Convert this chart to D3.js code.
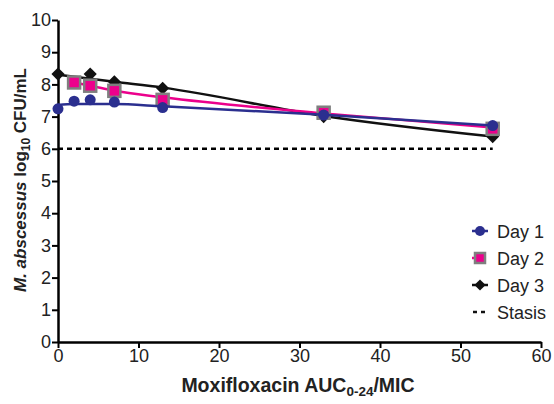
<!DOCTYPE html>
<html lang="en">
<head>
<meta charset="UTF-8">
<title>Moxifloxacin AUC/MIC vs M. abscessus</title>
<script src="https://d3js.org/d3.v7.min.js"></script>
<style>
  body { margin: 0; background: #fff; }
  text { font-family: "Liberation Sans", Arial, sans-serif; }
</style>
</head>
<body>
<svg width="554" height="404"></svg>
<script>
// measured points
var day1X = [0, 2, 4, 7, 13, 33, 54];
var day1Y = [7.24, 7.48, 7.52, 7.45, 7.28, 7.05, 6.72];
var day2X = [2, 4, 7, 13, 33, 54];
var day2Y = [8.06, 7.96, 7.8, 7.52, 7.12, 6.62];
var day3X = [0, 4, 7, 13, 33, 54];
var day3Y = [8.32, 8.32, 8.08, 7.88, 7.0, 6.38];

// fitted curves
var fit1X = [0, 2, 7, 13, 33, 54];
var fit1Y = [7.36, 7.39, 7.39, 7.32, 7.06, 6.72];
var fit2X = [2, 4, 7, 13, 33, 54];
var fit2Y = [8.06, 7.96, 7.8, 7.6, 7.1, 6.66];
var fit3X = [0, 7, 13, 33, 54];
var fit3Y = [8.3, 8.08, 7.9, 7.02, 6.38];

var stasisX = [0, 54];
var stasisY = [6, 6];

var xTicks = [0, 10, 20, 30, 40, 50, 60];
var yTicks = [0, 1, 2, 3, 4, 5, 6, 7, 8, 9, 10];
var legendLabels = ["Day 1", "Day 2", "Day 3", "Stasis"];

var svg = d3.select("svg");
var x = d3.scaleLinear().domain([0, 60]).range([58, 541]);
var y = d3.scaleLinear().domain([0, 10]).range([342, 20]);

var blue = "#2b2f8f", pink = "#ec008c", grey = "#7f7f7f";

// axes
var xAxis = svg.append("g")
    .attr("transform", "translate(0," + y(0) + ")")
    .call(d3.axisBottom(x).tickValues(xTicks).tickSize(6).tickPadding(1).tickSizeOuter(0));
var yAxis = svg.append("g")
    .attr("transform", "translate(" + x(0) + ",0)")
    .call(d3.axisLeft(y).tickValues(yTicks).tickSize(6).tickPadding(1).tickSizeOuter(0));

[xAxis, yAxis].forEach(function (a) {
    a.select(".domain").attr("stroke", "#000").attr("stroke-width", 2.5);
    a.selectAll(".tick line").attr("stroke", "#000").attr("stroke-width", 2);
    a.selectAll(".tick text").attr("fill", "#222").style("font-size", "18px")
        .style("font-family", "'Liberation Sans', Arial, sans-serif");
});

// axis titles
svg.append("text")
    .attr("x", 298).attr("y", 392)
    .attr("text-anchor", "middle")
    .style("font-size", "19.5px").style("font-weight", "bold").attr("fill", "#222")
    .html("Moxifloxacin AUC<tspan font-size='13.5' dy='4'>0-24</tspan><tspan dy='-4'>/MIC</tspan>");

svg.append("text")
    .attr("transform", "translate(26,180) rotate(-90)")
    .attr("text-anchor", "middle")
    .style("font-size", "17px").style("font-weight", "bold").attr("fill", "#222")
    .html("<tspan font-style='italic'>M. abscessus</tspan> log<tspan font-size='12' dy='4'>10</tspan><tspan dy='-4'> CFU/mL</tspan>");

var line = d3.line()
    .x(function (d) { return x(d[0]); })
    .y(function (d) { return y(d[1]); })
    .curve(d3.curveMonotoneX);

// stasis
svg.append("path")
    .datum(d3.zip(stasisX, stasisY))
    .attr("d", d3.line().x(function (d) { return x(d[0]); }).y(function (d) { return y(d[1]); }))
    .attr("fill", "none").attr("stroke", "#000").attr("stroke-width", 2.5)
    .attr("stroke-dasharray", "5,4");

var diamond = d3.symbol().type(d3.symbolDiamond2).size(110);

function drawSeries(fx, fy, px, py, color, marker) {
    svg.append("path")
        .datum(d3.zip(fx, fy))
        .attr("d", line)
        .attr("fill", "none").attr("stroke", color).attr("stroke-width", 2.5);
    var pts = svg.append("g").selectAll("g").data(d3.zip(px, py)).enter().append("g")
        .attr("transform", function (d) { return "translate(" + x(d[0]) + "," + y(d[1]) + ")"; });
    marker(pts);
}

function diamondMarker(sel) {
    sel.append("path").attr("d", diamond).attr("fill", "#111");
}
function squareMarker(sel) {
    sel.append("rect").attr("x", -6).attr("y", -6).attr("width", 12).attr("height", 12)
        .attr("fill", pink).attr("stroke", grey).attr("stroke-width", 2.5);
}
function circleMarker(sel) {
    sel.append("circle").attr("r", 5.5).attr("fill", blue);
}

drawSeries(fit3X, fit3Y, day3X, day3Y, "#111", diamondMarker);
drawSeries(fit2X, fit2Y, day2X, day2Y, pink, squareMarker);
drawSeries(fit1X, fit1Y, day1X, day1Y, blue, circleMarker);

// legend
var legend = svg.append("g").selectAll("g").data(legendLabels).enter().append("g")
    .attr("transform", function (d, i) { return "translate(480," + (231 + i * 27) + ")"; });

legend.each(function (d, i) {
    var g = d3.select(this);
    if (i === 0) {
        g.append("line").attr("x1", -8).attr("x2", 8).attr("stroke", blue).attr("stroke-width", 2.5);
        g.append("circle").attr("r", 5).attr("fill", blue);
    } else if (i === 1) {
        g.append("line").attr("x1", -8).attr("x2", 8).attr("stroke", pink).attr("stroke-width", 2.5)
            .attr("stroke-dasharray", "2,2");
        g.append("rect").attr("x", -5).attr("y", -5).attr("width", 10).attr("height", 10)
            .attr("fill", pink).attr("stroke", grey).attr("stroke-width", 2.5);
    } else if (i === 2) {
        g.append("line").attr("x1", -8).attr("x2", 8).attr("stroke", "#111").attr("stroke-width", 2.5);
        g.append("path").attr("d", d3.symbol().type(d3.symbolDiamond2).size(80)).attr("fill", "#111");
    } else {
        g.append("line").attr("x1", -7).attr("x2", 8).attr("stroke", "#111").attr("stroke-width", 2.5)
            .attr("stroke-dasharray", "4,4");
    }
    g.append("text").attr("x", 17).attr("y", 6.5)
        .style("font-size", "18px").attr("fill", "#222").text(d);
});
</script>
</body>
</html>
